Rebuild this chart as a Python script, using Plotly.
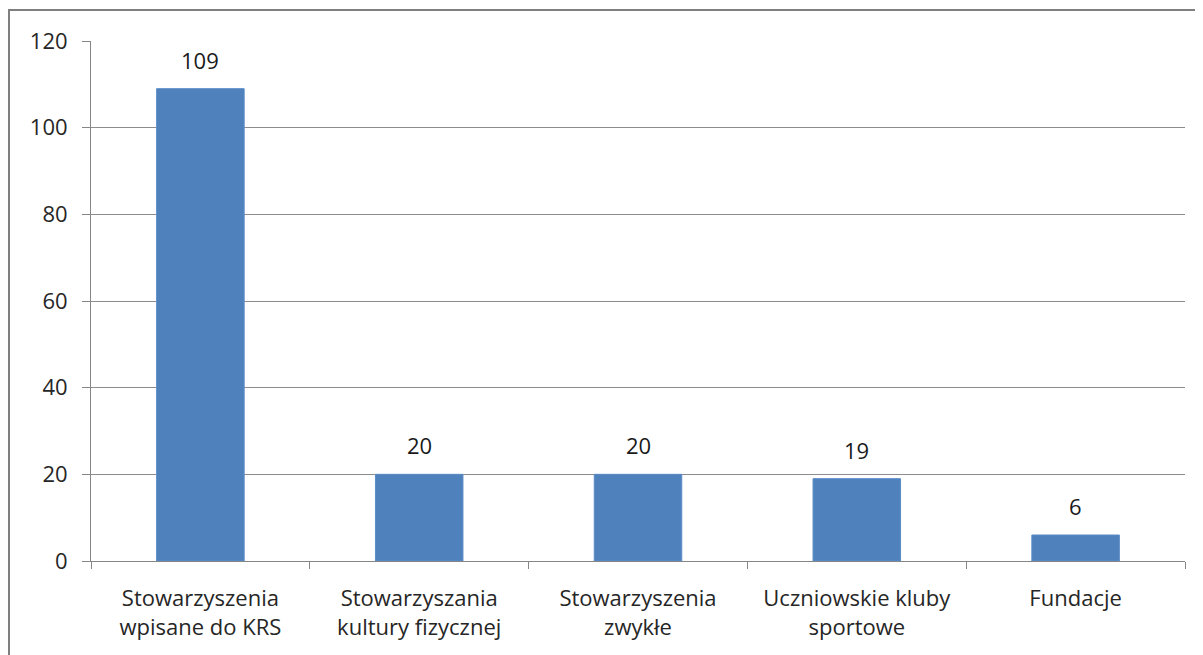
import plotly.graph_objects as go

categories = ["Stowarzyszenia<br>wpisane do KRS", "Stowarzyszania<br>kultury fizycznej",
              "Stowarzyszenia<br>zwykłe", "Uczniowskie kluby<br>sportowe", "Fundacje"]
values = [109, 20, 20, 19, 6]
y_ticks = [0, 20, 40, 60, 80, 100, 120]

# page body has 8px default margin; figure coordinates below are page - 8
W, H = 1195, 647
L, T = 83, 33
R, B = W - 1177, H - 553
pw, ph = W - L - R, H - T - B

font = "Open Sans, Liberation Sans, sans-serif"
fig = go.Figure(go.Bar(
    x=categories, y=values, width=0.4,
    marker=dict(color="#4F81BD", line=dict(color="#5B8CC8", width=1)),
))

for c, v in zip(categories, values):
    fig.add_annotation(x=c, y=v, text=str(v), showarrow=False, yanchor="bottom",
                       yshift=12, font=dict(size=22, color="#1a1a1a", family=font))

fig.update_layout(
    width=W, height=H, margin=dict(l=L, r=R, t=T, b=B, autoexpand=False),
    paper_bgcolor="white", plot_bgcolor="white",
    font=dict(family=font, size=22, color="#262626"),
    showlegend=False,
    xaxis=dict(type="category", showline=True, linecolor="#868686", linewidth=1,
               ticks="outside", tickson="boundaries", ticklen=7, tickcolor="#868686",
               showgrid=False, tickfont=dict(size=22, color="#262626"),
               ticklabelstandoff=18, automargin=False),
    yaxis=dict(range=[0, 120], tickvals=y_ticks, showline=True, linecolor="#868686",
               linewidth=1, ticks="outside", ticklen=8, tickcolor="#868686",
               showgrid=True, gridcolor="#8c8c8c", gridwidth=1, zeroline=False,
               tickfont=dict(size=22, color="#262626"), ticklabelstandoff=10,
               automargin=False),
    shapes=[dict(type="rect", xref="paper", yref="paper",
                 x0=(1 - L) / pw, x1=(1215 - L) / pw,
                 y0=-(H + 10 - (H - B)) / ph, y1=(H - B - 2) / ph,
                 line=dict(color="#7f7f7f", width=2), fillcolor="rgba(0,0,0,0)")],
)

fig.write_html("out.html")
